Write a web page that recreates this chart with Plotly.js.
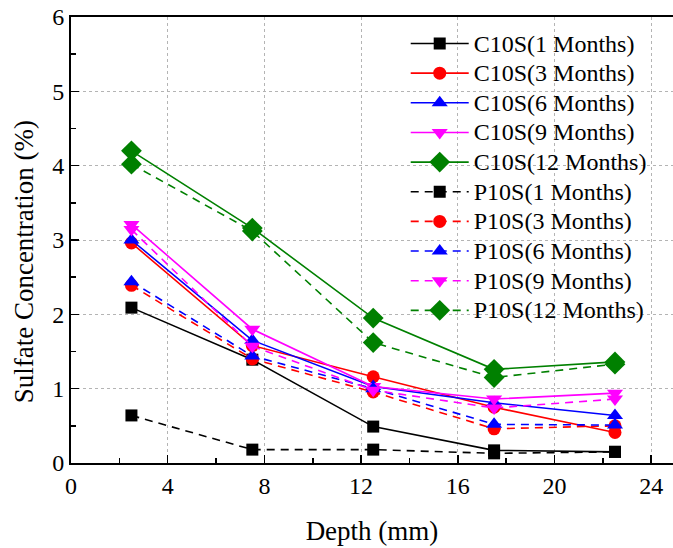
<!DOCTYPE html>
<html>
<head>
<meta charset="utf-8">
<script src="https://cdn.plot.ly/plotly-3.0.1.min.js"></script>
<style>html,body{margin:0;padding:0;background:#fff;}#chart{width:673px;height:548px;}</style>
</head>
<body>
<div id="chart"></div>
<script>
const depth = [2.5, 7.5, 12.5, 17.5, 22.5];

const seriesNames = [
  'C10S(1 Months)', 'C10S(3 Months)', 'C10S(6 Months)', 'C10S(9 Months)', 'C10S(12 Months)',
  'P10S(1 Months)', 'P10S(3 Months)', 'P10S(6 Months)', 'P10S(9 Months)', 'P10S(12 Months)'
];

const c10s_1 = [2.09, 1.39, 0.49, 0.17, 0.15];
const c10s_3 = [2.96, 1.58, 1.16, 0.75, 0.41];
const c10s_6 = [3.00, 1.65, 1.03, 0.81, 0.64];
const c10s_9 = [3.21, 1.80, 1.03, 0.86, 0.94];
const c10s_12 = [4.20, 3.16, 1.95, 1.26, 1.36];
const p10s_1 = [0.64, 0.18, 0.18, 0.13, 0.15];
const p10s_3 = [2.39, 1.40, 0.955, 0.46, 0.50];
const p10s_6 = [2.44, 1.44, 1.00, 0.52, 0.51];
const p10s_9 = [3.14, 1.57, 0.98, 0.74, 0.86];
const p10s_12 = [4.02, 3.12, 1.62, 1.15, 1.33];

const seriesValues = [c10s_1, c10s_3, c10s_6, c10s_9, c10s_12, p10s_1, p10s_3, p10s_6, p10s_9, p10s_12];

const xTitle = 'Depth (mm)';
const yTitle = 'Sulfate Concentration (%)';

const colors = ['#000000', '#ff0000', '#0000ff', '#ff00ff', '#008000'];
const symbols = ['square', 'circle', 'triangle-up', 'triangle-down', 'diamond'];
const sizes = [12, 13, 14, 14, 16];

const traces = seriesValues.map((vals, i) => {
  const k = i % 5;
  const dashed = i >= 5;
  return {
    x: depth,
    y: vals,
    name: '<span style="font-size:24px">' + seriesNames[i] + '</span>',
    type: 'scatter',
    mode: 'lines+markers',
    line: {color: colors[k], width: 1.6, dash: dashed ? '8px,6px' : 'solid'},
    marker: {color: colors[k], symbol: symbols[k], size: sizes[k]}
  };
});

const fontFam = '"Liberation Serif", "Times New Roman", serif';

const layout = {
  width: 673,
  height: 548,
  margin: {l: 71, r: 0, t: 17, b: 85},
  paper_bgcolor: '#ffffff',
  plot_bgcolor: '#ffffff',
  font: {family: fontFam, size: 24, color: '#000'},
  showlegend: true,
  legend: {
    x: 0.556, xanchor: 'left',
    y: 0.985, yanchor: 'top',
    bgcolor: 'rgba(0,0,0,0)',
    borderwidth: 0,
    font: {family: fontFam, size: 20.5, color: '#000'},
    itemwidth: 58,
    traceorder: 'normal',
    tracegroupgap: 0
  },
  annotations: [{
    text: yTitle,
    xref: 'paper', yref: 'paper',
    x: -0.078, y: 0.45,
    xanchor: 'center', yanchor: 'middle',
    textangle: -90,
    showarrow: false,
    font: {family: fontFam, size: 27, color: '#000'}
  }],
  xaxis: {
    range: [0, 24.9],
    tickvals: [0, 4, 8, 12, 16, 20, 24],
    ticks: 'inside',
    ticklen: 8,
    tickwidth: 1.5,
    tickcolor: '#000',
    minor: {dtick: 2, tick0: 0, ticks: 'inside', ticklen: 5, tickwidth: 1.5, tickcolor: '#000', showgrid: false},
    showline: true,
    linecolor: '#000',
    linewidth: 2,
    mirror: true,
    showgrid: true,
    gridcolor: '#b4b4b4',
    griddash: '3px,3px',
    gridwidth: 1,
    zeroline: false,
    tickfont: {family: fontFam, size: 24, color: '#000'},
    title: {text: xTitle, font: {family: fontFam, size: 27, color: '#000'}, standoff: 23}
  },
  yaxis: {
    range: [0, 6],
    tickvals: [0, 1, 2, 3, 4, 5, 6],
    ticks: 'inside',
    ticklen: 8,
    tickwidth: 1.5,
    tickcolor: '#000',
    minor: {dtick: 0.5, tick0: 0, ticks: 'inside', ticklen: 5, tickwidth: 1.5, tickcolor: '#000', showgrid: false},
    showline: true,
    linecolor: '#000',
    linewidth: 2,
    mirror: true,
    showgrid: true,
    gridcolor: '#b4b4b4',
    griddash: '3px,3px',
    gridwidth: 1,
    zeroline: false,
    tickfont: {family: fontFam, size: 24, color: '#000'}
  }
};

Plotly.newPlot('chart', traces, layout, {displayModeBar: false, staticPlot: true});
</script>
</body>
</html>
